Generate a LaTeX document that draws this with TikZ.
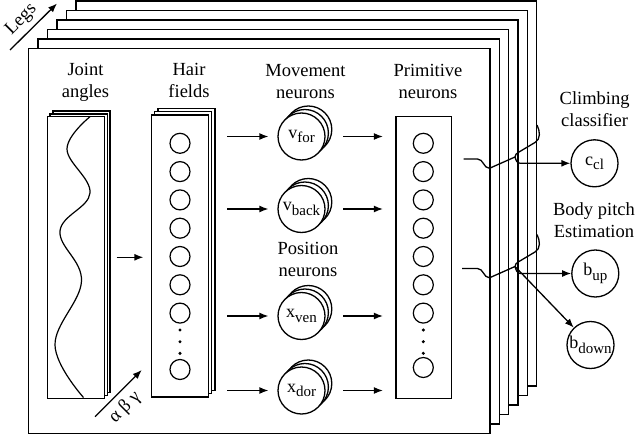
\documentclass[tikz,border=0pt]{standalone}
\usepackage{fontspec}
\setmainfont{Liberation Serif}
\usetikzlibrary{arrows.meta,calc}
\newcommand\sbx[1]{\raisebox{-4.5pt}{\fontsize{15}{15}\selectfont #1}}
\begin{document}
\begin{tikzpicture}[x=1pt,y=-1pt,
  caption/.style={font=\fontsize{18.5}{22.5}\selectfont, align=center, inner sep=0pt, anchor=base},
  frame/.style={draw, fill=white, line width=1.5pt},
  sheet/.style={draw, fill=white, line width=1.3pt, rectangle, inner sep=0pt},
  neuron/.style={circle, draw, fill=white, line width=1.3pt, minimum size=47pt, inner sep=0pt, font=\fontsize{18}{18}\selectfont},
  unit/.style={line width=1.2pt},
  wire/.style={line width=1.3pt, line join=round},
  arr/.style={line width=1.3pt, -{Latex[length=9pt,width=7pt]}},
]
\useasboundingbox (0,0) rectangle (636,441);

% stack of leg frames, back to front
\foreach \i in {5,4,...,0} {
  \draw[frame] ({28.7+9.5*\i},{48.7-9.5*\i}) rectangle ({490+9.33*\i},{433.3-9.45*\i});
}

% legs axis
\coordinate (legA) at (10,50);
\coordinate (legB) at (57,3.5);
\draw[arr] (legA) -- (legB);
\node[rotate=45, font=\fontsize{18.5}{18.5}\selectfont, inner sep=0pt] (legs) at (21.5,19.5) {Legs};

% column captions (base = baseline of the second line)
\node[caption] (capJ) at (85.5,98) {Joint\\angles};
\node[caption] (capH) at (189,98) {Hair\\fields};
\node[caption] (capM) at (305.5,99) {Movement\\neurons};
\node[caption] (capP) at (428,99) {Primitive\\neurons};
\node[caption] (capX) at (308,276.5) {Position\\neurons};
\node[caption] (capC) at (594.6,126.5) {Climbing\\classifier};
\node[caption] (capB) at (594,237.5) {Body pitch\\Estimation};

% joint angle sheets
\foreach \k in {2,1} {
  \draw[sheet] ({47.3+2.8*\k},{116.7-2.8*\k}) rectangle ({104.5+2.8*\k},{398.3-2.8*\k});
}
\node[sheet, minimum width=57.2pt, minimum height=281.6pt] (joint) at (75.9,257.5) {};
\draw[line width=1.2pt] plot[smooth, tension=0.65] coordinates
  {(90,116.7) (67,149) (90,193) (60,231) (81.5,281) (55,345) (83.5,397.5)};

% hair field sheets
\foreach \k in {2,1} {
  \draw[sheet] ({151.5+3.3*\k},{115-3.3*\k}) rectangle ({208.5+3.3*\k},{397-3.3*\k});
}
\node[sheet, minimum width=57pt, minimum height=282pt] (hair) at (180,256) {};
\foreach \y in {0,...,6} {
  \draw[unit] (180,{143.3+28.3*\y}) circle[radius=10pt];
}
\foreach \y in {330,341.7,353.3} { \fill (180,\y) circle[radius=1.7pt]; }
\draw[unit] (180,369.5) circle[radius=10pt];

% primitive neurons
\node[sheet, minimum width=55.7pt, minimum height=281.6pt] (prim) at (423.85,257.5) {};
\foreach \y in {0,...,6} {
  \draw[unit] (423.3,{143.3+28.3*\y}) circle[radius=10pt];
}
\foreach \y in {330,341.7,353.3} { \fill (423.3,\y) circle[radius=1.7pt]; }
\draw[unit] (423.3,367.5) circle[radius=10pt];

% movement and position neurons (stacked)
\foreach \yy in {136.5,209,316,390.5} {
  \foreach \k in {2,1} {
    \draw[line width=1.3pt, fill=white] ({301.5+3.4*\k},{\yy-3.5*\k}) circle[radius=23.5pt];
  }
}
\node[neuron] (vfor)  at (301.5,136.5) {v\sbx{for}};
\node[neuron] (vback) at (301.5,209)   {v\sbx{back}};
\node[neuron] (xven)  at (301.5,316)   {x\sbx{ven}};
\node[neuron] (xdor)  at (301.5,390.5) {x\sbx{dor}};

% output neurons
\node[neuron] (ccl)   at (594.5,163.3) {c\sbx{cl}};
\node[neuron] (bup)   at (595.3,273.5) {b\sbx{up}};
\node[neuron] (bdown) at (590.5,345)   {b\sbx{down}};

% forward connections
\draw[arr] ([xshift=11.5pt]joint.east |- 0,257.3) -- ([xshift=-7.5pt]hair.west |- 0,257.3);
\foreach \n in {vfor,vback,xven,xdor} {
  \draw[arr] ([xshift=18pt]hair.east |- \n.west) -- ([xshift=-9pt]\n.west);
  \draw[arr] ([xshift=17.5pt]\n.east) -- ([xshift=-12.5pt]prim.west |- \n.east);
}

% merged outputs to the classifier
\coordinate (o1) at (463.5,159);
\coordinate (t1) at (515,157);
\draw[wire] (o1) -- (477.5,159) .. controls (483.5,159) and (483.5,168.3) .. (489.5,168.3) -- (t1);
\draw[wire] (t1) .. controls (515,154.5) and (516.5,153.5) .. (519,152) -- (535,142.5) .. controls (541,139) and (540,131) .. (537,125);
\draw[arr] (t1) .. controls (516,160.5) and (517,163.3) .. (520.5,163.3) -- (ccl);

% merged outputs to the pitch estimation
\coordinate (o2) at (462,268.5);
\coordinate (t2) at (515,266.5);
\draw[wire] (o2) -- (477.5,268.5) .. controls (483.5,268.5) and (483.5,277.8) .. (489.5,277.8) -- (t2);
\draw[wire] (t2) .. controls (515,264) and (516.5,263) .. (519,261.5) -- (535,252) .. controls (541,248.5) and (540,240.5) .. (537,234.5);
\draw[arr] (t2) .. controls (516,270) and (517,273.5) .. (520.5,273.5) -- (bup);
\draw[arr] (t2) -- (bdown);

% joint angle components
\coordinate (gA) at (95,416.7);
\coordinate (gB) at (141.7,370);
\draw[arr] (gA) -- (gB);
\node[rotate=45, font=\fontsize{18.5}{18.5}\selectfont, inner sep=0pt] (abg) at (125,407) {α β γ};
\end{tikzpicture}
\end{document}
